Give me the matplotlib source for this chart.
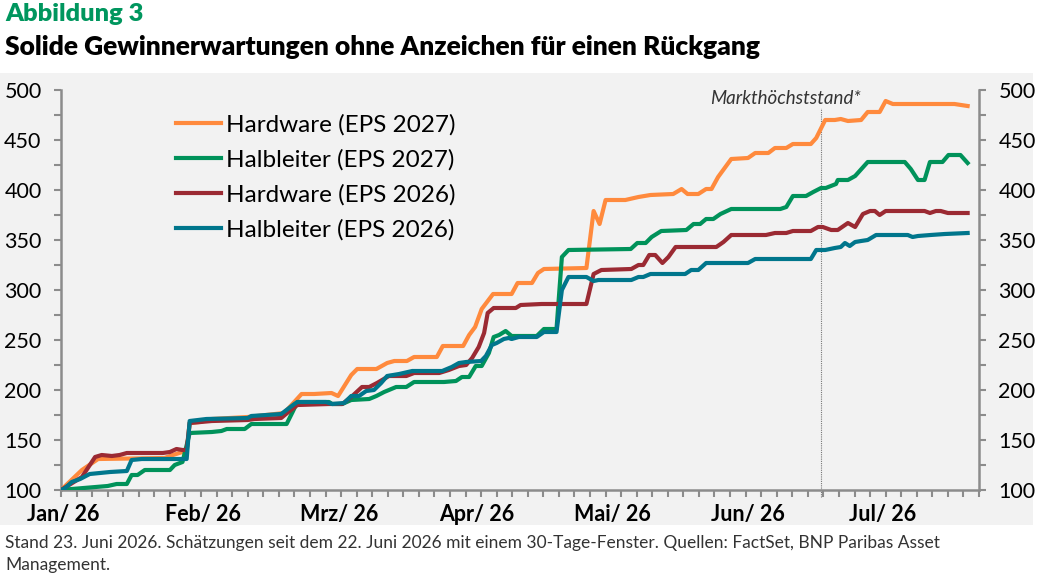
import numpy as np
import matplotlib
matplotlib.use("Agg")
import matplotlib.pyplot as plt
from matplotlib.patches import Rectangle

plt.rcParams['font.family'] = ['Lato', 'DejaVu Sans']

# ---------------- data (x = trading-day index, y = index level) ----------------
hw27_x = [0, 3.5, 6.2, 17.3, 18.7, 20.3, 21.0, 21.5, 23.2, 25.2, 31.2, 37.3, 40.2, 42.3, 45.2, 46.3,
          48.5, 49.5, 52.7, 54.5, 55.7, 57.8, 59.0, 62.8, 63.8, 67.2, 68.2, 69.2, 70.3, 72.2, 75.3,
          76.3, 78.7, 79.7, 80.7, 87.8, 89.0, 90.0, 91.0, 94.3, 96.5, 98.5, 102.3, 103.7, 104.7,
          106.5, 107.8, 108.7, 109.8, 112.0, 114.8, 116.0, 118.2, 119.3, 121.2, 122.3, 125.3,
          126.2, 127.7, 129.3, 130.3, 131.5, 133.7, 134.8, 136.8, 137.8, 139.0, 149.3, 151.5]
hw27_y = [100, 120, 131, 132, 135, 138, 138, 167, 168, 171, 173, 177, 196, 196, 197, 194,
          215, 221, 221, 227, 229, 229, 233, 233, 244, 244, 255, 263, 281, 296, 296,
          307, 307, 317, 321, 322, 379, 366, 390, 390, 393, 395, 396, 401, 396,
          396, 401, 401, 413, 431, 432, 437, 437, 442, 442, 446, 446,
          452, 470, 470, 471, 469, 470, 478, 478, 489, 486, 486, 484]

hl27_x = [0, 1.8, 7.8, 9.3, 11.0, 11.8, 12.8, 14.0, 18.2, 19.0, 20.3, 21.5, 25.2, 26.8, 27.7, 30.7,
          31.8, 37.7, 38.7, 39.5, 44.8, 45.3, 47.0, 48.5, 51.5, 52.7, 54.0, 56.0, 57.7, 59.0, 64.0,
          66.0, 67.0, 68.2, 69.3, 70.3, 71.5, 72.3, 73.2, 74.3, 75.3, 79.5, 80.7, 82.8, 83.7, 84.8,
          95.2, 96.3, 97.7, 98.7, 100.3, 104.5, 105.7, 106.8, 107.8, 109.0, 110.2, 112.0, 120.2,
          121.2, 122.3, 124.5, 125.7, 127.0, 127.8, 129.5, 129.8, 131.5, 132.7, 134.8, 141.0,
          142.0, 143.2, 144.3, 145.2, 147.3, 148.3, 150.3, 151.5]
hl27_y = [100, 101, 104, 106, 106, 115, 115, 120, 120, 125, 128, 157, 158, 159, 161, 161,
          166, 166, 178, 188, 188, 186, 186, 190, 191, 194, 198, 203, 203, 208, 208,
          209, 213, 213, 224, 224, 237, 253, 255, 259, 254, 254, 261, 261, 333, 340,
          341, 347, 347, 353, 359, 360, 366, 366, 371, 371, 376, 381, 381,
          383, 394, 394, 398, 402, 402, 406, 410, 410, 414, 428, 428,
          421, 410, 410, 428, 428, 435, 435, 427]

hw26_x = [0, 3.5, 5.7, 6.8, 8.5, 9.8, 11.0, 17.0, 18.2, 19.3, 20.3, 21.0, 21.5, 25.2, 31.2, 32.3,
          36.8, 37.8, 39.5, 44.8, 47.0, 48.5, 50.3, 51.5, 52.8, 54.8, 57.7, 59.0, 63.2, 64.8, 66.5,
          67.7, 68.7, 69.8, 70.7, 71.3, 72.3, 76.0, 76.8, 80.3, 87.8, 89.0, 90.3, 95.3, 96.5, 97.3,
          98.3, 99.3, 100.5, 101.5, 102.7, 109.5, 110.7, 112.0, 117.8, 119.3, 121.2, 122.3, 125.3,
          126.5, 127.3, 128.7, 129.8, 131.5, 132.7, 134.0, 135.2, 136.0, 136.8, 137.8, 144.3,
          145.2, 146.2, 147.0, 148.2, 151.5]
hw26_y = [100, 113, 133, 135, 134, 135, 137, 137, 138, 141, 140, 140, 167, 169, 170, 171,
          172, 177, 185, 186, 186, 193, 203, 203, 207, 214, 214, 217, 217, 220, 224,
          225, 232, 243, 257, 277, 282, 282, 285, 286, 286, 316, 320, 321, 325, 325,
          335, 335, 327, 333, 343, 343, 348, 355, 355, 357, 357, 359, 359,
          363, 363, 360, 360, 367, 363, 376, 379, 379, 375, 379, 379,
          377, 379, 379, 377, 377]

hl26_x = [0, 0.7, 1.8, 3.2, 4.8, 6.5, 8.2, 11.0, 11.8, 13.5, 20.3, 21.0, 21.5, 24.3, 31.2, 31.8,
          36.8, 39.0, 39.5, 44.3, 45.3, 47.3, 48.5, 49.8, 51.0, 52.3, 53.5, 54.5, 56.5, 58.7, 63.7,
          65.3, 66.5, 67.7, 70.2, 71.0, 72.0, 72.8, 74.0, 74.8, 75.3, 76.5, 79.5, 80.7, 82.8, 83.7,
          84.8, 87.8, 89.0, 89.8, 95.3, 96.5, 97.3, 98.5, 104.3, 105.3, 106.5, 107.8, 114.8, 116.0,
          125.3, 126.2, 127.7, 129.3, 130.3, 131.0, 131.8, 132.7, 133.7, 134.8, 136.2, 141.5,
          142.3, 143.2, 145.3, 147.7, 151.5]
hl26_y = [100, 102, 108, 111, 116, 117, 118, 119, 130, 131, 131, 131, 169, 171, 172, 174,
          176, 186, 188, 188, 186, 187, 194, 194, 199, 200, 207, 214, 216, 219, 219,
          223, 227, 228, 229, 234, 245, 247, 251, 252, 251, 253, 253, 258, 258, 300,
          313, 313, 309, 310, 310, 313, 313, 316, 316, 320, 320, 327, 327, 331,
          331, 340, 340, 342, 343, 347, 344, 348, 349, 350, 355, 355,
          353, 354, 355, 356, 357]

series_labels = ["Hardware (EPS 2027)", "Halbleiter (EPS 2027)", "Hardware (EPS 2026)", "Halbleiter (EPS 2026)"]
series_colors = ["#ff8a3d", "#00925a", "#9b2a33", "#00768c"]

month_pos = [0.3, 23.7, 46.5, 69.5, 92.2, 114.8, 137.3]
month_labels = ["Jan/ 26", "Feb/ 26", "Mrz/ 26", "Apr/ 26", "Mai/ 26", "Jun/ 26", "Jul/ 26"]
peak_x = 127.0
y_ticks = [100, 150, 200, 250, 300, 350, 400, 450, 500]

title_green = "Abbildung 3"
title_main = "Solide Gewinnerwartungen ohne Anzeichen für einen Rückgang"
footnote = ("Stand 23. Juni 2026. Schätzungen seit dem 22. Juni 2026 mit einem 30-Tage-Fenster. "
            "Quellen: FactSet, BNP Paribas Asset\nManagement.")

# ---------------- figure ----------------
W, H = 1040, 578
fig = plt.figure(figsize=(W / 100, H / 100), dpi=100)
fig.patch.set_facecolor("white")
fig.patches.append(Rectangle((0, 1 - 525 / H), 1033 / W, (525 - 73) / H,
                             transform=fig.transFigure, facecolor="#f2f2f2",
                             edgecolor="none", zorder=-5))

ax = fig.add_axes([61 / W, 1 - 490 / H, (979 - 61) / W, (490 - 90) / H])
ax.patch.set_alpha(0)

xs = [hw27_x, hl27_x, hw26_x, hl26_x]
ys = [hw27_y, hl27_y, hw26_y, hl26_y]
lines = []
for x, y, c, lab in zip(xs, ys, series_colors, series_labels):
    ln, = ax.plot(x, y, color=c, lw=3.0, label=lab, solid_joinstyle="round", zorder=3)
    lines.append(ln)

ax.set_xlim(0, 153)
ax.set_ylim(100, 500)

axis_c = "#8c8c8c"
for s in ["left", "right", "bottom"]:
    ax.spines[s].set_color(axis_c)
    ax.spines[s].set_linewidth(1.8)
ax.spines["top"].set_visible(False)

ax.set_yticks(y_ticks)
ax.set_yticks(np.arange(125, 500, 50), minor=True)
ax.set_yticklabels([str(v) for v in y_ticks])
ax.tick_params(axis="y", which="both", direction="out", length=5, width=1.5, color=axis_c,
               left=True, right=True, labelleft=True, labelright=True,
               labelsize=15.5, pad=9, labelcolor="black")

ax.set_xticks(month_pos)
ax.set_xticklabels(month_labels, fontweight="bold")
ax.set_xticks(np.arange(0, 153.5, 2.6), minor=True)
ax.tick_params(axis="x", which="major", length=0, labelsize=15.5, pad=10)
ax.tick_params(axis="x", which="minor", direction="out", length=5, width=1.5, color=axis_c)

# market-high marker
ax.plot([peak_x, peak_x], [93, 482], color="#777777", lw=0.8, ls=(0, (1, 1)),
        clip_on=False, zorder=2)
ax.text(133.6, 486, "Markthöchststand*", ha="right", va="baseline", fontsize=13.5,
        style="italic", color="#333333")

leg = ax.legend(handles=lines, loc="upper left", bbox_to_anchor=(0.12, 0.952),
                frameon=False, fontsize=17.5, handlelength=1.85, handletextpad=0.2,
                labelspacing=0.56, borderaxespad=0, borderpad=0.2)

fig.text(5 / W, 1 - 14 / H, title_green, color="#00965e", fontsize=18.3, fontweight="heavy",
         va="center", ha="left")
fig.text(5 / W, 1 - 47 / H, title_main, color="black", fontsize=19, fontweight="heavy",
         va="center", ha="left")
fig.text(5 / W, 1 - 535 / H, footnote, color="#333333", fontsize=12.5,
         va="top", ha="left", linespacing=1.45)

fig.savefig("out.png", dpi=100)
